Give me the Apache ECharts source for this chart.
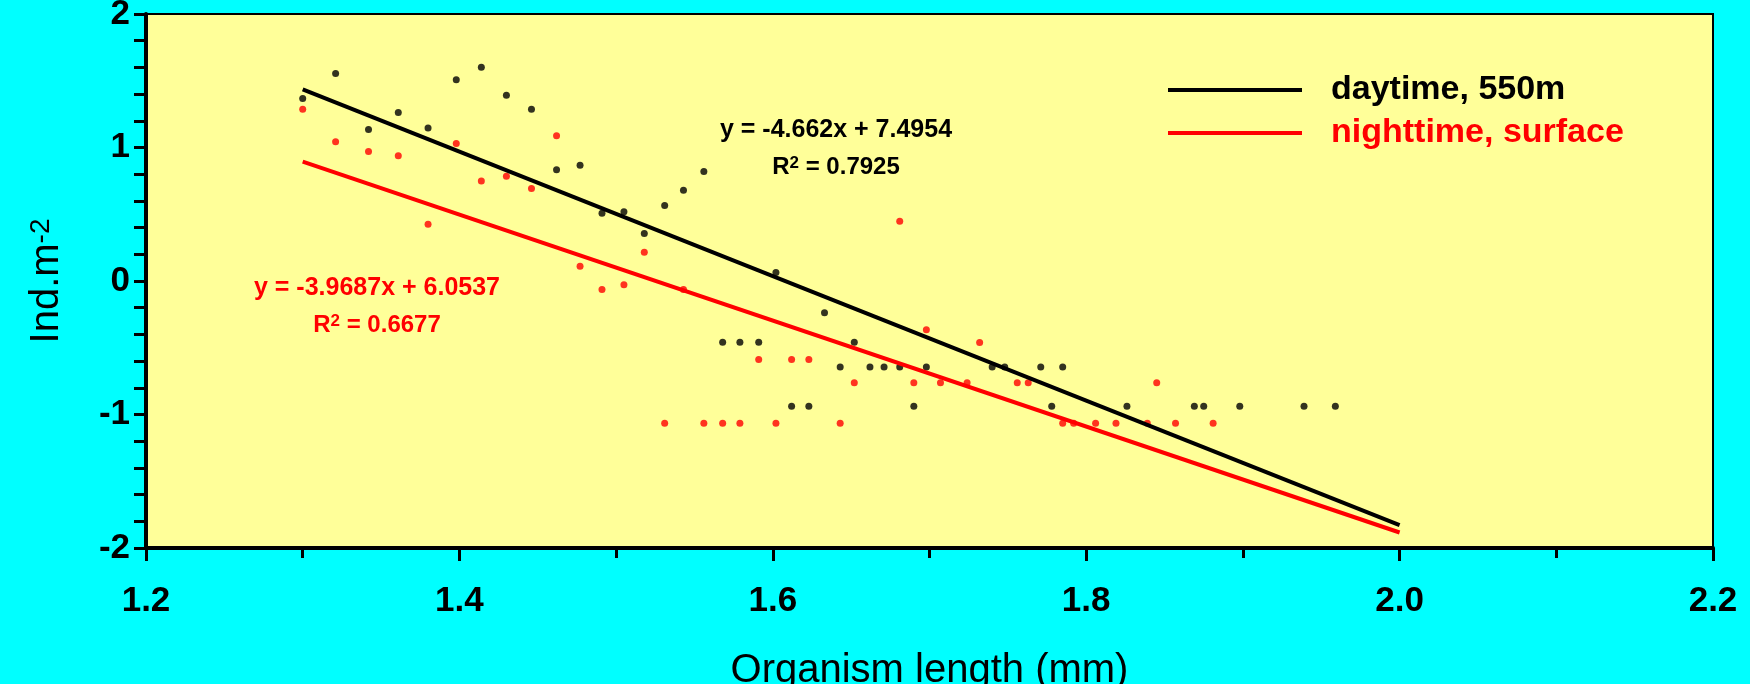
<!DOCTYPE html>
<html>
<head>
<meta charset="utf-8">
<title>Ind.m-2 vs organism length</title>
<script src="https://cdn.jsdelivr.net/npm/echarts@6/dist/echarts.min.js"></script>
<style>
	html, body { margin: 0; padding: 0; background: #00FFFF; }
	#chart { width: 1750px; height: 684px; }
</style>
</head>
<body>
<div id="chart"></div>
<script>
	//daytime, 550m  (black points)
	var dayX = [1.300, 1.321, 1.342, 1.361, 1.380, 1.398, 1.414, 1.430, 1.446, 1.462,
		1.477, 1.491, 1.505, 1.518, 1.531, 1.543, 1.556, 1.568, 1.579, 1.591,
		1.602, 1.612, 1.623, 1.633, 1.643, 1.652, 1.662, 1.671, 1.681, 1.690,
		1.698, 1.740, 1.748, 1.771, 1.778, 1.785, 1.826, 1.869, 1.875, 1.898,
		1.939, 1.959];
	var dayY = [1.367, 1.554, 1.135, 1.262, 1.147, 1.507, 1.602, 1.392, 1.287, 0.833,
		0.867, 0.508, 0.518, 0.356, 0.566, 0.680, 0.820, -0.458, -0.458, -0.458,
		0.064, -0.938, -0.938, -0.238, -0.645, -0.458, -0.645, -0.645, -0.645, -0.938,
		-0.645, -0.645, -0.645, -0.645, -0.938, -0.645, -0.938, -0.938, -0.938, -0.938,
		-0.938, -0.938];

	//nighttime, surface  (red points)
	var nightX = [1.300, 1.321, 1.342, 1.361, 1.380, 1.398, 1.414, 1.430, 1.446, 1.462,
		1.477, 1.491, 1.505, 1.518, 1.531, 1.543, 1.556, 1.568, 1.579, 1.591,
		1.602, 1.612, 1.623, 1.643, 1.652, 1.681, 1.690, 1.698, 1.707, 1.724,
		1.732, 1.756, 1.763, 1.785, 1.792, 1.806, 1.819, 1.839, 1.845, 1.857,
		1.881];
	var nightY = [1.287, 1.043, 0.970, 0.938, 0.425, 1.030, 0.750, 0.785, 0.693, 1.088,
		0.111, -0.064, -0.029, 0.216, -1.065, -0.064, -1.065, -1.065, -1.065, -0.588,
		-1.065, -0.588, -0.588, -1.065, -0.763, 0.448, -0.763, -0.366, -0.763, -0.763,
		-0.461, -0.763, -0.763, -1.065, -1.065, -1.065, -1.065, -1.065, -0.763, -1.065,
		-1.065];

	//trend lines (ends)
	var trendX = [1.3, 2.0];
	var dayTrendY = [1.435, -1.829];
	var nightTrendY = [0.894, -1.884];

	var seriesNames = ['daytime, 550m', 'nighttime, surface'];
	var colors = ['#000000', '#FF0000'];
	var dayEq = ['y = -4.662x + 7.4954', '0.7925'];
	var nightEq = ['y = -3.9687x + 6.0537', '0.6677'];

	function pairs(xs, ys) {
		var out = [];
		for (var i = 0; i < xs.length; i++) {
			out.push([xs[i], ys[i]]);
		}
		return out;
	}

	var FONT = '"Liberation Sans", Arial, sans-serif';

	//equation labels
	function eqText(lines, col, cx, cy) {
		var rich = {
			n: { fontSize: 24, fontWeight: 'bold', fontFamily: FONT, fill: col, color: col },
			s: { fontSize: 17, fontWeight: 'bold', fontFamily: FONT, fill: col, color: col, verticalAlign: 'top' }
		};
		return [
			{
				type: 'text', x: cx, y: cy, z: 10,
				style: { text: lines[0], font: 'bold 25px ' + FONT, fill: col, align: 'center', verticalAlign: 'middle' }
			},
			{
				type: 'text', x: cx, y: cy + 37, z: 10,
				style: { text: '{n|R}{s|2}{n| = ' + lines[1] + '}', rich: rich, align: 'center', verticalAlign: 'middle' }
			}
		];
	}

	var myChart = echarts.init(document.getElementById('chart'));
	var option = {
		backgroundColor: '#00FFFF',
		animation: false,
		grid: {
			left: 146, right: 37, top: 14, bottom: 136,
			outerBoundsMode: 'none',
			show: true,
			backgroundColor: '#FFFF99',
			borderColor: '#000',
			borderWidth: 2
		},
		legend: {
			orient: 'vertical',
			left: 1163,
			top: 68,
			icon: 'rect',
			itemWidth: 134,
			itemHeight: 4,
			itemGap: 9,
			selectedMode: false,
			textStyle: {
				fontFamily: FONT,
				fontWeight: 'bold',
				fontSize: 34,
				lineHeight: 34,
				padding: [0, 0, 0, 24]
			},
			data: [
				{ name: seriesNames[0], textStyle: { color: colors[0] } },
				{ name: seriesNames[1], textStyle: { color: colors[1] } }
			]
		},
		xAxis: {
			type: 'value',
			min: 1.2,
			max: 2.2,
			interval: 0.2,
			name: 'Organism length (mm)',
			nameLocation: 'middle',
			nameGap: 103,
			nameTextStyle: { fontFamily: FONT, fontSize: 40, color: '#000' },
			axisLine: { show: true, onZero: false, lineStyle: { color: '#000', width: 4 } },
			axisTick: { show: true, length: 13, lineStyle: { color: '#000', width: 3 } },
			minorTick: { show: true, splitNumber: 2, length: 10, lineStyle: { color: '#000', width: 3 } },
			axisLabel: {
				margin: 36,
				fontFamily: FONT,
				fontWeight: 'bold',
				fontSize: 35,
				color: '#000',
				formatter: function (v) { return v.toFixed(1); }
			},
			splitLine: { show: false }
		},
		yAxis: {
			type: 'value',
			min: -2,
			max: 2,
			interval: 1,
			name: '{a|Ind.m}{b|-2}',
			nameLocation: 'middle',
			nameGap: 79,
			nameTextStyle: {
				rich: {
					a: { fontFamily: FONT, fontSize: 40, color: '#000' },
					b: { fontFamily: FONT, fontSize: 28, color: '#000', verticalAlign: 'top' }
				}
			},
			axisLine: { show: true, onZero: false, lineStyle: { color: '#000', width: 4 } },
			axisTick: { show: true, length: 12, lineStyle: { color: '#000', width: 3 } },
			minorTick: { show: true, splitNumber: 5, length: 12, lineStyle: { color: '#000', width: 3 } },
			axisLabel: {
				margin: 16,
				fontFamily: FONT,
				fontWeight: 'bold',
				fontSize: 35,
				color: '#000'
			},
			splitLine: { show: false }
		},
		graphic: eqText(dayEq, colors[0], 836, 130).concat(eqText(nightEq, colors[1], 377, 288)),
		series: [
			{
				name: 'daytime points',
				type: 'scatter',
				symbol: 'circle',
				symbolSize: 7,
				itemStyle: { color: colors[0] },
				z: 2,
				data: pairs(dayX, dayY)
			},
			{
				name: 'nighttime points',
				type: 'scatter',
				symbol: 'circle',
				symbolSize: 7,
				itemStyle: { color: colors[1] },
				z: 2,
				data: pairs(nightX, nightY)
			},
			{
				name: seriesNames[0],
				type: 'line',
				symbol: 'none',
				z: 3,
				itemStyle: { color: colors[0] },
				lineStyle: { color: colors[0], width: 4 },
				data: pairs(trendX, dayTrendY)
			},
			{
				name: seriesNames[1],
				type: 'line',
				symbol: 'none',
				z: 3,
				itemStyle: { color: colors[1] },
				lineStyle: { color: colors[1], width: 4 },
				data: pairs(trendX, nightTrendY)
			}
		]
	};
	myChart.setOption(option);
</script>
</body>
</html>
